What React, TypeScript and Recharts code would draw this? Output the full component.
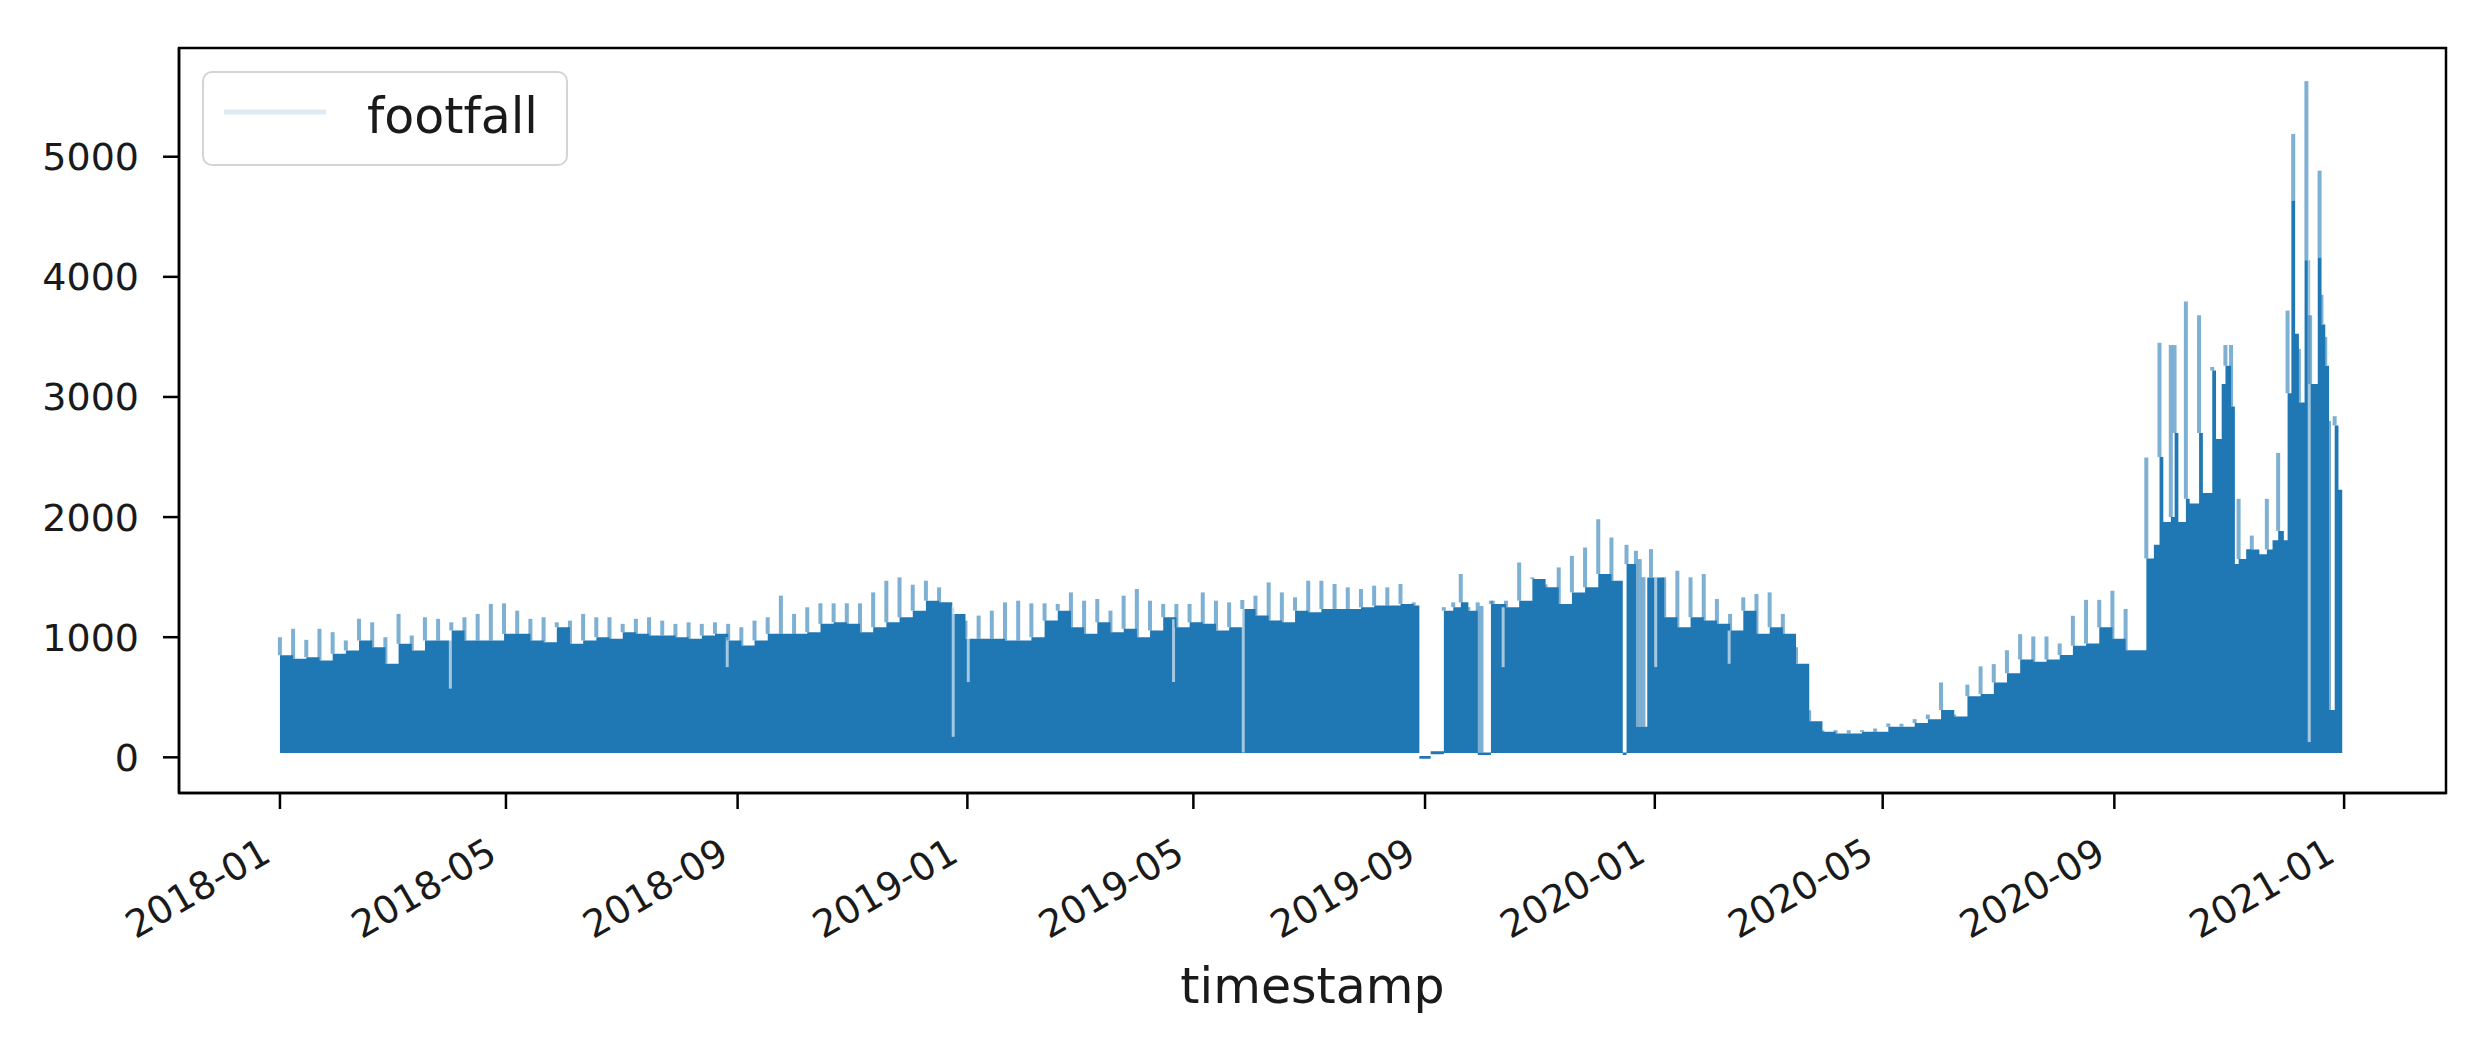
import React from 'react';
import { ComposedChart, Area, Bar, XAxis, YAxis, ReferenceArea } from 'recharts';

const W = 2463;
const H = 1030;
const DAY = 86400000;
const START = Date.UTC(2018, 0, 1);
const toTs = (iso: string) => Date.parse(`${iso}T00:00:00Z`);

// tick labels
const xTickLabels = ['2018-01', '2018-05', '2018-09', '2019-01', '2019-05', '2019-09', '2020-01', '2020-05', '2020-09', '2021-01'];
const yTicks = [0, 1000, 2000, 3000, 4000, 5000];

// weekly envelope of the hourly footfall, week i starts on 2018-01-01 + 7*i days
// level = top of the dense daily band, peak = top of that week's spike
// null = week drawn from the irregular rows further down
const level2018 = [
  850, 821, 834, 807, 862, 890, 973, 917, 779, 945,
  890, 973, 973, 1056, 973, 973, 973, 1028, 1028, 973,
  959, 1083, 945, 973, 1000, 987, 1042, 1028, 1014, 1014,
  1000, 987, 1014, 1028, 973, 931, 973, 1028, 1028, 1028,
  1042, 1111, 1124, 1111, 1042, 1083, 1124, 1166, 1221, 1304,
  1290, 1194,
];
const peak2018 = [
  1000, 1070, 978, 1070, 1042, 973, 1153, 1124, 1000, 1194,
  1014, 1166, 1153, 1124, 1166, 1194, 1277, 1282, 1221, 1153,
  1166, 1124, 1138, 1194, 1166, 1166, 1111, 1153, 1166, 1138,
  1111, 1124, 1111, 1124, 1111, 1083, 1138, 1166, 1346, 1194,
  1249, 1282, 1282, 1282, 1282, 1373, 1470, 1498, 1437, 1470,
  1415, 1249,
];
const level2019 = [
  987, 987, 987, 973, 973, 1000, 1138, 1221, 1083, 1028,
  1124, 1042, 1070, 1000, 1056, 1166, 1083, 1124, 1111, 1056,
  1083, 1235, 1180, 1138, 1124, 1221, 1207, 1235, 1235, 1235,
  1249, 1263, 1263, 1277, 1263, null, null, null, null, null,
  1277, 1249, 1304, 1484, 1415, 1277, 1373, 1415, 1526, 1470,
  null, null,
];
const peak2019 = [
  1138, 1180, 1221, 1290, 1304, 1282, 1282, 1277, 1373, 1304,
  1318, 1221, 1346, 1401, 1304, 1277, 1277, 1277, 1373, 1304,
  1290, 1310, 1346, 1456, 1373, 1332, 1470, 1470, 1443, 1415,
  1401, 1429, 1415, 1443, 1290, null, null, null, null, null,
  1304, 1304, 1622, 1498, 1440, 1581, 1677, 1747, 1982, 1830,
  null, null,
];
const level2020 = [
  1498, 1166, 1083, 1166, 1138, 1111, 1056, 1221, 1028, 1083,
  1028, 780, 300, 212, 199, 199, 212, 212, 254, 255,
  285, 318, 394, 340, 509, 528, 623, 700, 814, 795,
  814, 852, 929, 948, 1082, 987, 891, 891,
];
const peak2020 = [
  1733, 1498, 1553, 1498, 1526, 1318, 1194, 1332, 1360, 1373,
  1194, 917, 392, 226, 226, 226, 226, 240, 282, 280,
  318, 356, 623, 356, 605, 757, 776, 891, 1025, 1006,
  1006, 948, 1178, 1311, 1311, 1387, 1235, null,
];

type Irregular = { date: string; level: number; low?: number; peak?: number };

// sensor outage, Sept 2019
const gapRows2019: Irregular[] = [
  { date: '2019-08-29', level: 12, low: -12 },
  { date: '2019-09-04', level: 50, low: 25 },
  { date: '2019-09-11', level: 1221, peak: 1250 },
  { date: '2019-09-16', level: 1250, peak: 1290 },
  { date: '2019-09-20', level: 1290, peak: 1526 },
  { date: '2019-09-24', level: 1221, peak: 1250 },
  { date: '2019-09-29', level: 40, low: 20, peak: 1290 },
  { date: '2019-10-01', level: 40, low: 20, peak: 1260 },
  { date: '2019-10-03', level: 40, low: 20 },
  { date: '2019-10-06', level: 1277, peak: 1304 },
];

// mid / late December 2019
const holidayRows2019: Irregular[] = [
  { date: '2019-12-15', level: 40, low: 20 },
  { date: '2019-12-17', level: 1609, peak: 1769 },
  { date: '2019-12-22', level: 254, peak: 1719 },
  { date: '2019-12-24', level: 254, peak: 1650 },
  { date: '2019-12-26', level: 254, peak: 1500 },
  { date: '2019-12-28', level: 1498 },
];

// autumn 2020 onwards, read at a finer step
const lateRows2020: Irregular[] = [
  { date: '2020-09-18', level: 1655, peak: 2496 },
  { date: '2020-09-22', level: 1770 },
  { date: '2020-09-25', level: 2500, peak: 3451 },
  { date: '2020-09-27', level: 1960 },
  { date: '2020-10-01', level: 2000, peak: 3432 },
  { date: '2020-10-03', level: 2700, peak: 3432 },
  { date: '2020-10-05', level: 1960 },
  { date: '2020-10-09', level: 2152, peak: 3795 },
  { date: '2020-10-11', level: 2114 },
  { date: '2020-10-16', level: 2700, peak: 3680 },
  { date: '2020-10-18', level: 2200 },
  { date: '2020-10-23', level: 3220, peak: 3250 },
  { date: '2020-10-25', level: 2650 },
  { date: '2020-10-28', level: 3107 },
  { date: '2020-10-30', level: 3260, peak: 3432 },
  { date: '2020-11-02', level: 2920, peak: 3432 },
  { date: '2020-11-04', level: 1610 },
  { date: '2020-11-06', level: 1650, peak: 2152 },
  { date: '2020-11-10', level: 1732 },
  { date: '2020-11-13', level: 1730, peak: 1846 },
  { date: '2020-11-17', level: 1690 },
  { date: '2020-11-21', level: 1730, peak: 2152 },
  { date: '2020-11-24', level: 1808 },
  { date: '2020-11-27', level: 1885, peak: 2534 },
  { date: '2020-11-30', level: 1808 },
  { date: '2020-12-02', level: 3031, peak: 3719 },
  { date: '2020-12-04', level: 4636 },
  { date: '2020-12-05', level: 4636, peak: 5190 },
  { date: '2020-12-06', level: 3527 },
  { date: '2020-12-08', level: 2954, peak: 3400 },
  { date: '2020-12-11', level: 4139 },
  { date: '2020-12-12', level: 4139, peak: 5629 },
  { date: '2020-12-14', level: 3107, peak: 3680 },
  { date: '2020-12-18', level: 4158 },
  { date: '2020-12-19', level: 4158, peak: 4884 },
  { date: '2020-12-20', level: 3604, peak: 3850 },
  { date: '2020-12-22', level: 3260, peak: 3500 },
  { date: '2020-12-24', level: 394, peak: 2800 },
  { date: '2020-12-27', level: 2763, peak: 2840 },
  { date: '2020-12-29', level: 2228 },
  { date: '2020-12-31', level: 2228 },
];

// single low days that show as pale lines through the band
const dipDates = ['2018-04-01', '2018-08-26', '2018-12-24', '2019-01-01', '2019-04-20', '2019-05-27', '2019-10-12', '2020-01-01', '2020-02-09', '2020-12-13'];
const dipLow = [572, 751, 171, 627, 627, 40, 751, 751, 779, 127];
const dipHigh = [1100, 1000, 1260, 1000, 1150, 1235, 1249, 1498, 1056, 4139];

const NIGHT_MIN = 35;

type Row = { t: number; level: number | null; low: number | null; peak: number | null; dip: [number, number] | null };

function buildRows(): Row[] {
  const rows: Row[] = [];
  const levels = [...level2018, ...level2019, ...level2020];
  const peaks = [...peak2018, ...peak2019, ...peak2020];
  levels.forEach((lv, i) => {
    if (lv == null) return;
    rows.push({ t: START + i * 7 * DAY, level: lv, low: NIGHT_MIN, peak: peaks[i] ?? null, dip: null });
  });
  [...gapRows2019, ...holidayRows2019, ...lateRows2020].forEach((r) => {
    rows.push({ t: toTs(r.date), level: r.level, low: r.low ?? NIGHT_MIN, peak: r.peak ?? null, dip: null });
  });
  dipDates.forEach((d, i) => {
    // half a day later so it never shares a timestamp with a band row
    rows.push({ t: toTs(d) + DAY / 2, level: null, low: null, peak: null, dip: [dipLow[i], dipHigh[i]] });
  });
  rows.sort((a, b) => a.t - b.t);
  return rows;
}

const rows = buildRows();

const X_MIN = START - 53.6 * DAY;
const X_MAX = START + 1150.1 * DAY;
const Y_MIN = -297;
const Y_MAX = 5905;

const bandKey = (r: Row) => (r.level == null ? [null, null] : [r.low, r.level]);
const barKey = (r: Row) => {
  if (r.dip) return r.dip;
  if (r.peak != null && r.level != null) return [r.level, r.peak];
  return [0, 0];
};

// spikes / pale dips, drawn with a fixed width round the data point
const SpikeShape = (props: any) => {
  const { x, y, width, height, payload } = props;
  if (!height || Math.abs(height) < 0.5) return null;
  const cx = x + (width || 0) / 2;
  const isDip = payload && payload.dip;
  const w = isDip ? 3 : 4;
  const top = Math.min(y, y + height);
  return (
    <rect
      x={cx - w / 2}
      y={top}
      width={w}
      height={Math.abs(height)}
      fill={isDip ? '#ffffff' : '#1f77b4'}
      fillOpacity={isDip ? 0.6 : 0.58}
    />
  );
};

const DateTick = (props: any) => {
  const { x, y, payload } = props;
  const ex = x - 7;
  const ey = y + 49;
  return (
    <text x={ex} y={ey} textAnchor="end" fontSize={38} fill="#1a1a1a" transform={`rotate(-30, ${ex}, ${ey})`}>
      {new Date(payload.value).toISOString().slice(0, 7)}
    </text>
  );
};

export default function App() {
  return (
    <div style={{ position: 'relative', width: W, height: H, fontFamily: '"DejaVu Sans", sans-serif' }}>
      <ComposedChart width={W} height={H} data={rows} margin={{ top: 40, right: 25, bottom: 0, left: 0 }}>
        <XAxis
          dataKey="t"
          type="number"
          domain={[X_MIN, X_MAX]}
          allowDataOverflow
          ticks={xTickLabels.map((m) => toTs(`${m}-01`))}
          interval={0}
          tick={<DateTick />}
          tickSize={16}
          tickLine={{ stroke: '#000', strokeWidth: 2.5 }}
          axisLine={{ stroke: '#000', strokeWidth: 2.5 }}
          height={245}
          label={{ value: 'timestamp', position: 'insideBottom', offset: 35, fontSize: 49, fill: '#1a1a1a' }}
        />
        <YAxis
          type="number"
          domain={[Y_MIN, Y_MAX]}
          allowDataOverflow
          ticks={yTicks}
          interval={0}
          width={171}
          tickSize={16}
          tickMargin={24}
          tick={{ fontSize: 38, fill: '#1a1a1a' }}
          tickLine={{ stroke: '#000', strokeWidth: 2.5 }}
          axisLine={{ stroke: '#000', strokeWidth: 2.5 }}
        />
        <Area
          type="stepAfter"
          dataKey={bandKey as any}
          stroke="none"
          fill="#1f77b4"
          fillOpacity={1}
          connectNulls
          dot={false}
          activeDot={false}
          isAnimationActive={false}
        />
        <Bar dataKey={barKey as any} barSize={4} shape={<SpikeShape />} isAnimationActive={false} />
        <ReferenceArea x1={X_MIN} x2={X_MAX} y1={Y_MIN} y2={Y_MAX} fill="none" stroke="#000" strokeWidth={2.5} ifOverflow="visible" />
      </ComposedChart>
      <svg width={366} height={95} style={{ position: 'absolute', left: 194, top: 63 }}>
        <rect x={1} y={1} width={364} height={93} rx={9} fill="#fff" fillOpacity={0.8} stroke="#d4d4d4" strokeWidth={2} />
        <line x1={22} x2={124} y1={41} y2={41} stroke="#1f77b4" strokeOpacity={0.15} strokeWidth={5} />
        <text x={165} y={62} fontSize={49} fill="#1a1a1a">footfall</text>
      </svg>
    </div>
  );
}
